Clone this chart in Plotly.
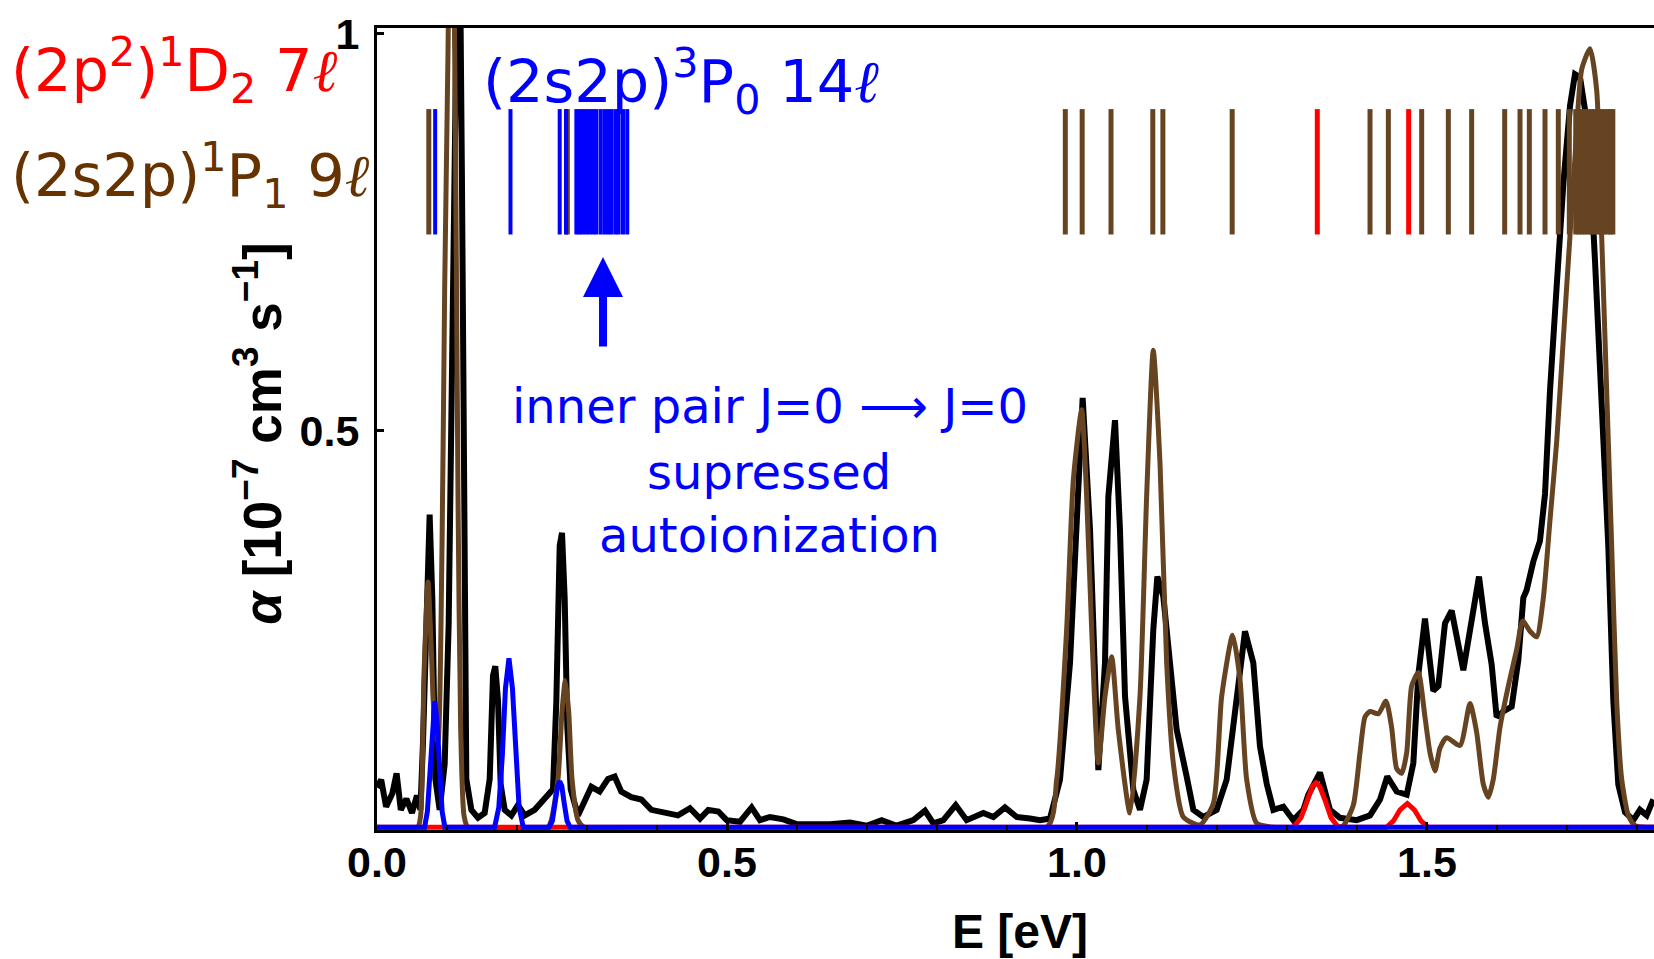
import plotly.graph_objects as go

# ---- measured rate coefficient (black) ----
energy_exp = [0.000, 0.006, 0.013, 0.022, 0.028, 0.034, 0.042, 0.050, 0.057, 0.062,
              0.0657, 0.0705, 0.0752, 0.0790, 0.0833, 0.0895, 0.0967, 0.1024, 0.1070, 0.1120,
              0.1171, 0.1214, 0.1243, 0.1276, 0.1348, 0.1443, 0.1538, 0.1610, 0.1657, 0.1690,
              0.1729, 0.1767, 0.1824, 0.1919, 0.2014, 0.2110, 0.2252, 0.2395, 0.2514, 0.2562,
              0.2610, 0.2643, 0.2681, 0.2719, 0.2767, 0.2871, 0.2967, 0.3062, 0.3181, 0.3300,
              0.3395, 0.3490, 0.3633, 0.3776, 0.3919, 0.4081, 0.4300, 0.4471, 0.4614, 0.4733,
              0.4876, 0.4995, 0.5186, 0.5352, 0.5471, 0.5614, 0.5805, 0.5995, 0.6471, 0.6757,
              0.6995, 0.7209, 0.7424, 0.7662, 0.7829, 0.7948, 0.8090, 0.8267, 0.8424, 0.8662,
              0.8805, 0.8971, 0.9138, 0.9329, 0.9471, 0.9614, 0.9757, 0.9900, 0.9995, 1.0081,
              1.0186, 1.0257, 1.0305, 1.0400, 1.0448, 1.0543, 1.0614, 1.0686, 1.0805, 1.0900,
              1.0995, 1.1090, 1.1148, 1.1233, 1.1329, 1.1424, 1.1567, 1.1662, 1.1805, 1.1995,
              1.2138, 1.2281, 1.2400, 1.2519, 1.2614, 1.2710, 1.2805, 1.2948, 1.3090, 1.3233,
              1.3305, 1.3471, 1.3614, 1.3757, 1.3995, 1.4186, 1.4329, 1.4433, 1.4567, 1.4710,
              1.4805, 1.4876, 1.4971, 1.5090, 1.5162, 1.5257, 1.5352, 1.5519, 1.5638, 1.5743,
              1.5829, 1.5924, 1.5995, 1.6090, 1.6210, 1.6305, 1.6376, 1.6424, 1.6519, 1.6614,
              1.6686, 1.6757, 1.6852, 1.6948, 1.7043, 1.7114, 1.7186, 1.7305, 1.7400, 1.7495,
              1.7590, 1.7662, 1.7733, 1.7829, 1.7948, 1.8043, 1.8138, 1.8233]
alpha_exp = [0.050, 0.060, 0.026, 0.043, 0.068, 0.022, 0.036, 0.018, 0.040, 0.022,
             0.107, 0.289, 0.394, 0.289, 0.061, 0.022, 0.080, 0.257, 0.550, 0.877,
             1.250, 0.811, 0.355, 0.061, 0.022, 0.012, 0.018, 0.061, 0.191, 0.203,
             0.159, 0.054, 0.022, 0.015, 0.028, 0.015, 0.022, 0.035, 0.048, 0.159,
             0.355, 0.371, 0.289, 0.126, 0.048, 0.015, 0.035, 0.051, 0.045, 0.061,
             0.064, 0.045, 0.038, 0.035, 0.022, 0.019, 0.015, 0.024, 0.011, 0.022,
             0.020, 0.009, 0.007, 0.025, 0.009, 0.013, 0.010, 0.004, 0.004, 0.006,
             0.002, 0.009, 0.002, 0.009, 0.021, 0.005, 0.009, 0.028, 0.009, 0.018,
             0.013, 0.025, 0.013, 0.011, 0.009, 0.011, 0.060, 0.207, 0.375, 0.541,
             0.375, 0.165, 0.072, 0.207, 0.417, 0.513, 0.375, 0.165, 0.047, 0.022,
             0.060, 0.249, 0.316, 0.291, 0.215, 0.123, 0.064, 0.022, 0.013, 0.022,
             0.060, 0.165, 0.247, 0.207, 0.102, 0.055, 0.022, 0.026, 0.009, 0.022,
             0.041, 0.069, 0.022, 0.012, 0.009, 0.015, 0.035, 0.064, 0.045, 0.041,
             0.081, 0.192, 0.263, 0.172, 0.178, 0.257, 0.273, 0.198, 0.263, 0.316,
             0.257, 0.205, 0.139, 0.146, 0.152, 0.211, 0.289, 0.299, 0.335, 0.361,
             0.420, 0.550, 0.681, 0.811, 0.909, 0.949, 0.945, 0.877, 0.714, 0.550,
             0.355, 0.159, 0.054, 0.019, 0.009, 0.022, 0.015, 0.035]

# ---- theory: (2s2p)1P1 nl series (brown) ----
energy_1p1 = [0.000, 0.058, 0.0624, 0.0671, 0.0729, 0.0776, 0.0824, 0.0871, 0.0929, 0.0967,
              0.1014, 0.1062, 0.1120, 0.1157, 0.1195, 0.1243, 0.1300, 0.2440, 0.2490, 0.2586,
              0.2643, 0.2690, 0.2738, 0.2786, 0.2871, 0.2960, 0.9570, 0.9710, 0.9852, 0.9948,
              1.0067, 1.0138, 1.0210, 1.0305, 1.0400, 1.0495, 1.0590, 1.0757, 1.0900, 1.0995,
              1.1090, 1.1186, 1.1281, 1.1376, 1.1519, 1.1757, 1.1948, 1.2067, 1.2224, 1.2329,
              1.2424, 1.2567, 1.2805, 1.3700, 1.3805, 1.3948, 1.4043, 1.4114, 1.4186, 1.4305,
              1.4414, 1.4495, 1.4567, 1.4638, 1.4710, 1.4781, 1.4876, 1.4971, 1.5043, 1.5114,
              1.5186, 1.5281, 1.5471, 1.5614, 1.5709, 1.5805, 1.5876, 1.5948, 1.6043, 1.6162,
              1.6281, 1.6367, 1.6471, 1.6567, 1.6662, 1.6757, 1.6852, 1.6948, 1.7043, 1.7114,
              1.7210, 1.7329, 1.7424, 1.7495, 1.7567, 1.7638, 1.7710, 1.7781, 1.7876, 1.7971,
              1.8243]
alpha_1p1 = [0.000, 0.000, 0.015, 0.192, 0.309, 0.224, 0.126, 0.107, 0.355, 0.681,
             0.974, 1.350, 0.877, 0.420, 0.126, 0.015, 0.000, 0.000, 0.009, 0.061,
             0.146, 0.185, 0.146, 0.061, 0.009, 0.000, 0.000, 0.060, 0.249, 0.438,
             0.526, 0.417, 0.249, 0.081, 0.165, 0.215, 0.123, 0.018, 0.165, 0.417,
             0.601, 0.459, 0.207, 0.081, 0.013, 0.003, 0.030, 0.165, 0.242, 0.186,
             0.060, 0.005, 0.000, 0.000, 0.002, 0.028, 0.094, 0.139, 0.146, 0.143,
             0.159, 0.126, 0.074, 0.068, 0.094, 0.178, 0.195, 0.139, 0.094, 0.071,
             0.100, 0.113, 0.103, 0.156, 0.120, 0.054, 0.038, 0.061, 0.126, 0.178,
             0.224, 0.260, 0.247, 0.240, 0.289, 0.387, 0.485, 0.616, 0.746, 0.844,
             0.955, 0.981, 0.929, 0.746, 0.550, 0.355, 0.159, 0.061, 0.015, 0.002,
             0.000]

# ---- theory: (2s2p)3P0 nl series (blue) ----
energy_3p0 = [0.000, 0.068, 0.072, 0.0755, 0.079, 0.0825, 0.086, 0.0895, 0.093, 0.097,
              0.168, 0.174, 0.179, 0.1835, 0.1885, 0.1935, 0.198, 0.203, 0.209,
              0.246, 0.2505, 0.2545, 0.258, 0.261, 0.264, 0.2675, 0.2715, 0.276, 1.8243]
alpha_3p0 = [0.000, 0.000, 0.020, 0.070, 0.130, 0.159, 0.130, 0.070, 0.020, 0.000,
             0.000, 0.025, 0.090, 0.175, 0.213, 0.175, 0.090, 0.025, 0.000,
             0.000, 0.008, 0.030, 0.052, 0.058, 0.052, 0.030, 0.008, 0.000, 0.000]

# ---- theory: (2p^2)1D2 nl series (red) ----
energy_1d2 = [0.000, 1.309, 1.320, 1.329, 1.3365, 1.3414, 1.3465, 1.354, 1.363, 1.3733,
              1.442, 1.452, 1.4615, 1.4719, 1.482, 1.4915, 1.502, 1.8243]
alpha_1d2 = [0.000, 0.000, 0.012, 0.035, 0.052, 0.056, 0.052, 0.035, 0.012, 0.000,
             0.000, 0.008, 0.022, 0.030, 0.022, 0.008, 0.000, 0.000]

# ---- resonance positions (eV) of each series ----
lines_1p1 = [0.0740, 0.2719, 0.9833, 1.0074, 1.0486, 1.1083, 1.1227, 1.2217, 1.4186, 1.4448,
             1.4924, 1.5305, 1.5638, 1.6110, 1.6329, 1.6462, 1.6686, 1.6876, 1.7033, 1.7125,
             1.7170, 1.7215, 1.7260, 1.7305, 1.7350, 1.7395, 1.7440, 1.7485, 1.7530, 1.7575,
             1.7620, 1.7655]
lines_3p0 = [0.0831, 0.1907, 0.2610, 0.2700, 0.2848, 0.2890, 0.2933, 0.2986, 0.3033, 0.3086,
             0.3133, 0.3195, 0.3250, 0.3300, 0.3348, 0.3405, 0.3452, 0.3514, 0.3575]
lines_1d2 = [1.3433, 1.4738]

# vertical extent of the resonance-position sticks
STICK_LO, STICK_HI = 0.747, 0.905

BROWN = "#664422"
BROWN_TEXT = "#663300"
RED = "#ff0000"
BLUE = "#0000ff"


def sticks(pos, color, width):
    xs, ys = [], []
    for e in pos:
        xs += [e, e, None]
        ys += [STICK_LO, STICK_HI, None]
    return go.Scatter(x=xs, y=ys, mode="lines", line=dict(color=color, width=width),
                      hoverinfo="skip", showlegend=False)


def curve(x, y, color, width, shape="linear"):
    return go.Scatter(x=x, y=y, mode="lines",
                      line=dict(color=color, width=width, shape=shape, smoothing=0.6),
                      showlegend=False)


fig = go.Figure()
fig.add_trace(curve(energy_exp, alpha_exp, "black", 6))
fig.add_trace(curve(energy_1p1, alpha_1p1, BROWN, 5, "spline"))
fig.add_trace(curve(energy_1d2, alpha_1d2, RED, 5))
fig.add_trace(curve(energy_3p0, alpha_3p0, BLUE, 5))
fig.add_trace(sticks(lines_1p1, BROWN, 5))
fig.add_trace(sticks(lines_3p0, BLUE, 4))
fig.add_trace(sticks(lines_1d2, RED, 5))

TICK_FONT = dict(family="Liberation Sans", size=43, color="black", weight="bold")
LABEL_FONT = "DejaVu Sans"
ELL = "<span style='font-family:DejaVu Serif;font-style:italic'>ℓ</span>"
NB = "\u00a0"

fig.update_layout(
    width=1654, height=959,
    margin=dict(l=377, r=0, t=28, b=129),
    paper_bgcolor="white", plot_bgcolor="white",
    xaxis=dict(range=[0, 1.8243], showline=True, linecolor="black", linewidth=3,
               mirror=True, showgrid=False, zeroline=False,
               tickmode="linear", tick0=0, dtick=0.5, tickformat=".1f",
               ticks="inside", ticklen=8, tickwidth=2.5, tickcolor="black",
               tickfont=TICK_FONT, ticklabelstandoff=-8,
               minor=dict(tickmode="linear", tick0=0, dtick=0.1, ticks="inside",
                          ticklen=5, tickwidth=2, tickcolor="black")),
    yaxis=dict(range=[-0.0034, 1.0072], showline=True, linecolor="black", linewidth=3,
               mirror=False, showgrid=False, zeroline=False,
               tickmode="array", tickvals=[0.5, 1.0], ticktext=["0.5", "1"],
               ticks="inside", ticklen=7, tickwidth=2.5, tickcolor="black",
               tickfont=TICK_FONT, ticklabelstandoff=6),
)

annotations = [
    # axis titles
    dict(text="E [eV]", xref="paper", yref="paper", x=0.5035, y=-0.126,
         xanchor="center", yanchor="middle", showarrow=False,
         font=dict(family="Liberation Sans", size=48, color="black", weight="bold")),
    dict(text="<i>α</i> [10<sup>−7</sup>" + NB + "cm<sup>3</sup>" + NB + "s<sup>−1</sup>]",
         textangle=-90, xref="paper", yref="paper", x=-0.0935, y=0.4947,
         xanchor="center", yanchor="middle", showarrow=False,
         font=dict(family="Liberation Sans", size=53, color="black", weight="bold")),
    # series labels
    dict(text="(2p<sup>2</sup>)<sup>1</sup>D<sub>2</sub> 7" + ELL,
         xref="paper", yref="paper", x=-0.1585, y=0.9464,
         xanchor="center", yanchor="middle", showarrow=False,
         font=dict(family=LABEL_FONT, size=59, color=RED)),
    dict(text="(2s2p)<sup>1</sup>P<sub>1</sub> 9" + ELL,
         xref="paper", yref="paper", x=-0.1464, y=0.8155,
         xanchor="center", yanchor="middle", showarrow=False,
         font=dict(family=LABEL_FONT, size=59, color=BROWN_TEXT)),
    dict(text="(2s2p)<sup>3</sup>P<sub>0</sub> 14" + ELL,
         xref="paper", yref="paper", x=0.2381, y=0.9327,
         xanchor="center", yanchor="middle", showarrow=False,
         font=dict(family=LABEL_FONT, size=59, color=BLUE)),
    # explanatory note
    dict(text="inner pair J=0 ⟶ J=0", xref="paper", yref="paper", x=0.3078, y=0.5287,
         xanchor="center", yanchor="middle", showarrow=False,
         font=dict(family=LABEL_FONT, size=48, color=BLUE)),
    dict(text="supressed", xref="paper", yref="paper", x=0.307, y=0.447,
         xanchor="center", yanchor="middle", showarrow=False,
         font=dict(family=LABEL_FONT, size=48, color=BLUE)),
    dict(text="autoionization", xref="paper", yref="paper", x=0.307, y=0.3678,
         xanchor="center", yanchor="middle", showarrow=False,
         font=dict(family=LABEL_FONT, size=48, color=BLUE)),
    # arrow pointing at the suppressed 3P0 resonances
    dict(text="", x=0.3229, y=0.7186, ax=0.3229, ay=0.6041,
         xref="x", yref="y", axref="x", ayref="y",
         showarrow=True, arrowhead=2, arrowsize=1, arrowwidth=8,
         arrowcolor=BLUE, standoff=0),
]
fig.update_layout(annotations=annotations)

fig.write_html("out.html")
